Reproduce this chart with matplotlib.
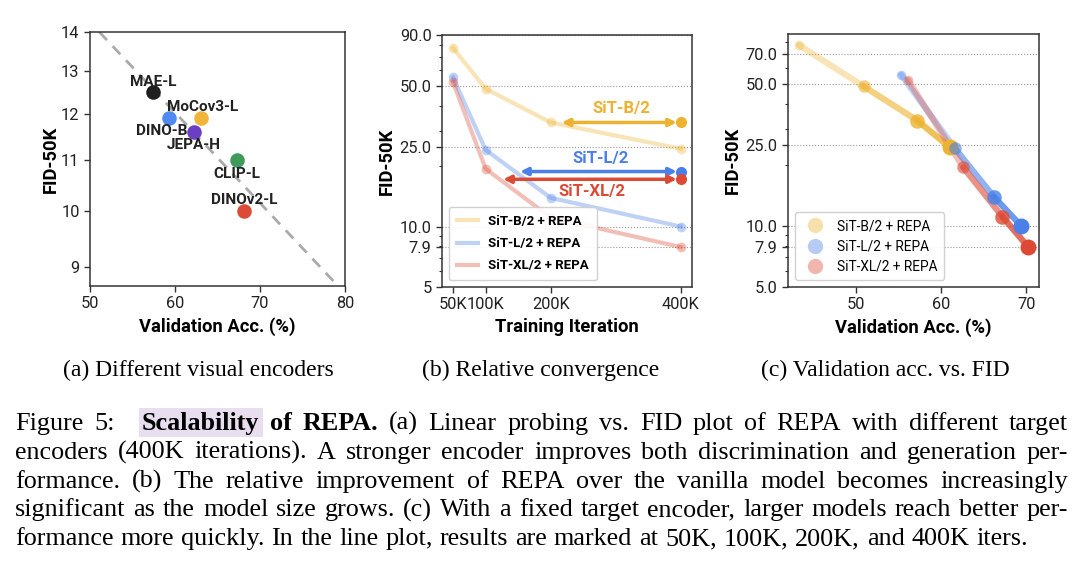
import matplotlib
matplotlib.use('Agg')
import matplotlib.pyplot as plt
from matplotlib.lines import Line2D
from matplotlib.patches import Rectangle
from matplotlib.ticker import FixedLocator, NullLocator, NullFormatter

# (a) different target encoders at 400K iters
enc_names = ['MAE-L', 'DINO-B', 'MoCov3-L', 'JEPA-H', 'CLIP-L', 'DINOv2-L']
enc_acc = [57.4, 59.3, 63.1, 62.2, 67.3, 68.1]
enc_fid = [12.5, 11.9, 11.9, 11.6, 11.0, 10.0]
trend_acc = [51.1, 80.0]
trend_fid = [14.0, 8.56]

# (b) FID vs training iteration (K) for SiT + REPA
iters = [50, 100, 200, 400]
fid_b2 = [77.5, 48.6, 33.0, 24.4]
fid_l2 = [55.4, 24.1, 13.9, 10.0]
fid_xl2 = [52.3, 19.4, 11.1, 7.9]
models = ['SiT-B/2', 'SiT-L/2', 'SiT-XL/2']
vanilla_fid_400k = [33.0, 18.8, 17.2]
match_iter = [217, 153, 127]

# (c) validation acc vs FID
acc_b2 = [43.3, 50.9, 57.2, 61.0]
acc_l2 = [55.3, 61.6, 66.2, 69.4]
acc_xl2 = [56.1, 62.6, 67.2, 70.2]

# caption text
subcaps = ['(a) Different visual encoders', '(b) Relative convergence', '(c) Validation acc. vs. FID']
cap_lines = [
    'Figure 5:| **Scalability **of **REPA.** (a) Linear probing vs. FID plot of REPA with different target',
    'encoders (400K iterations). A stronger encoder improves both discrimination and generation per-',
    'formance. (b) The relative improvement of REPA over the vanilla model becomes increasingly',
    'significant as the model size grows. (c) With a fixed target encoder, larger models reach better per-',
    'formance more quickly. In the line plot, results are marked at 50K, 100K, 200K, and 400K iters.',
]

enc_colors = ['#1f1f1f', '#4e8af0', '#f2b53a', '#6b3fc4', '#3e9b5b', '#dc4b38']
enc_offsets = [(0, 7), (-5, -9), (1, 8), (0, -9.5), (0, -10), (0, 8)]
gold, blue, red = '#edb22f', '#4a80e8', '#dc4a35'
cols = [gold, blue, red]
spine_c = '#333333'
lab_fs = 13.2

plt.rcParams['font.family'] = ['Roboto', 'DejaVu Sans']
W, H = 1080, 563
fig = plt.figure(figsize=(W / 100, H / 100), dpi=100)


def px_axes(l, t, r, b):
    return fig.add_axes([l / W, 1 - b / H, (r - l) / W, (b - t) / H])


def style(ax):
    for s in ax.spines.values():
        s.set_color(spine_c)
        s.set_linewidth(1.1)
    ax.tick_params(labelsize=11.8, length=4, width=1, color=spine_c, labelcolor='#222222')
    ax.tick_params(which='minor', length=2.5, width=0.8, color=spine_c)


# ---------------- (a)
ax1 = px_axes(90, 32, 345, 286)
ax1.plot(trend_acc, trend_fid, ls='--', color='#aaaaaa', lw=2, dashes=(4, 3), zorder=1)
for i in range(len(enc_names)):
    ax1.scatter(enc_acc[i], enc_fid[i], s=110, color=enc_colors[i], zorder=3, linewidths=0)
    ax1.annotate(enc_names[i], (enc_acc[i], enc_fid[i]), xytext=enc_offsets[i],
                 textcoords='offset points', ha='center', va='center',
                 fontsize=11, fontweight='bold', color='#222222', zorder=4)
ax1.set_yscale('log')
ax1.set_xlim(50, 80)
ax1.set_ylim(8.68, 14)
ax1.yaxis.set_major_locator(FixedLocator([9, 10, 11, 12, 13, 14]))
ax1.yaxis.set_minor_locator(NullLocator())
ax1.yaxis.set_minor_formatter(NullFormatter())
ax1.set_yticklabels(['9', '10', '11', '12', '13', '14'])
ax1.set_xticks([50, 60, 70, 80])
ax1.set_xlabel('Validation Acc. (%)', fontsize=lab_fs, fontweight='bold', labelpad=4)
ax1.set_ylabel('FID-50K', fontsize=lab_fs, fontweight='bold', labelpad=1)
style(ax1)

# ---------------- (b)
ax2 = px_axes(442, 35, 692, 287)
series = [fid_b2, fid_l2, fid_xl2]
for k in range(3):
    ax2.plot(iters, series[k], color=cols[k], alpha=0.35, lw=3, marker='o', ms=7,
             mec='none', label=models[k] + ' + REPA', zorder=2)
for k in range(3):
    ax2.annotate('', xy=(match_iter[k], vanilla_fid_400k[k]), xytext=(iters[-1], vanilla_fid_400k[k]),
                 arrowprops=dict(arrowstyle='<|-|>', color=cols[k], lw=2.5, mutation_scale=11,
                                 shrinkA=3, shrinkB=0), zorder=3)
    ax2.plot(iters[-1], vanilla_fid_400k[k], 'o', color=cols[k], ms=8, mec='none', zorder=4)
lab_dy = [10, 9.5, -9]
for k in range(3):
    ax2.annotate(models[k], ((match_iter[k] + iters[-1]) / 2, vanilla_fid_400k[k]),
                 xytext=(0, lab_dy[k]), textcoords='offset points', ha='center', va='center',
                 fontsize=12, fontweight='bold', color=cols[k])
ax2.set_yscale('log')
ax2.set_xlim(33, 417)
ax2.set_ylim(5, 90)
ax2.yaxis.set_major_locator(FixedLocator([5, 7.9, 10, 25, 50, 90]))
ax2.yaxis.set_minor_formatter(NullFormatter())
ax2.set_yticklabels(['5', '7.9', '10.0', '25.0', '50.0', '90.0'])
ax2.set_xticks(iters)
ax2.set_xticklabels(['50K', '100K', '200K', '400K'])
ax2.grid(axis='y', which='major', ls=':', color='#999999', lw=0.8)
ax2.set_xlabel('Training Iteration', fontsize=lab_fs, fontweight='bold', labelpad=4)
ax2.set_ylabel('FID-50K', fontsize=lab_fs, fontweight='bold', labelpad=3)
leg = ax2.legend(loc='lower left', prop={'weight': 'bold', 'size': 9.5}, framealpha=0.9,
                 handlelength=1.6, borderpad=0.6, labelspacing=0.7)
for h in leg.get_lines():
    h.set_marker('')
style(ax2)

# ---------------- (c)
ax3 = px_axes(788, 34, 1039, 287)
accs = [acc_b2, acc_l2, acc_xl2]
seg_alpha = [0.35, 0.6, 0.8]
pt_alpha = [0.35, 0.6, 0.8, 1.0]
pt_size = [7, 9, 10.5, 11.5]
for k in range(3):
    for i in range(3):
        ax3.plot(accs[k][i:i + 2], series[k][i:i + 2], color=cols[k], alpha=seg_alpha[i], lw=4.5,
                 solid_capstyle='round', zorder=2)
    for i in range(4):
        ax3.plot(accs[k][i], series[k][i], 'o', color=cols[k], alpha=pt_alpha[i], ms=pt_size[i],
                 mec='none', zorder=3)
ax3.set_yscale('log')
ax3.set_xlim(42.0, 71.5)
ax3.set_ylim(5, 88)
ax3.yaxis.set_major_locator(FixedLocator([5, 7.9, 10, 25, 50, 70]))
ax3.yaxis.set_minor_formatter(NullFormatter())
ax3.set_yticklabels(['5.0', '7.9', '10.0', '25.0', '50.0', '70.0'])
ax3.set_xticks([50, 60, 70])
ax3.grid(axis='y', which='major', ls=':', color='#999999', lw=0.8)
ax3.set_xlabel('Validation Acc. (%)', fontsize=lab_fs, fontweight='bold', labelpad=4)
ax3.set_ylabel('FID-50K', fontsize=lab_fs, fontweight='bold', labelpad=3)
handles = [Line2D([], [], ls='', marker='o', ms=11, color=c, alpha=0.4, mec='none') for c in cols]
ax3.legend(handles, [m + ' + REPA' for m in models], loc='lower left', prop={'size': 9.8},
           framealpha=0.9, handletextpad=0.6, borderpad=0.5, labelspacing=0.45)
style(ax3)

# ---------------- captions
serif = 'Liberation Serif'
cap_fs = 18.8
sub_x = [198, 541, 885]
for x, s in zip(sub_x, subcaps):
    fig.text(x / W, 1 - 376 / H, s, ha='center', va='baseline', fontsize=17, family=serif)

fig.canvas.draw()
renderer = fig.canvas.get_renderer()
left_px, right_px = 15, 1068
for n, line in enumerate(cap_lines):
    base = 430 + 28.8 * n
    y = 1 - base / H
    tokens = []
    for w in line.replace('|', ' |').split(' '):
        if w == '|':
            tokens[-1][2] = 17
            continue
        bold = w.startswith('**')
        tokens.append([w.strip('*'), bold, 0])
    texts = [fig.text(0, y, t[0], fontsize=cap_fs, family=serif, va='baseline',
                      fontweight='bold' if t[1] else 'normal') for t in tokens]
    widths = [t.get_window_extent(renderer).width for t in texts]
    extra = sum(t[2] for t in tokens)
    last = n == len(cap_lines) - 1
    gap = 7 if last else (right_px - left_px - sum(widths) - extra) / (len(texts) - 1)
    x = left_px
    for t, w, tok in zip(texts, widths, tokens):
        t.set_x(x / W)
        if tok[0] == 'Scalability':
            fig.patches.append(Rectangle(((x - 3) / W, 1 - (base + 7) / H), (w + 6) / W, 29 / H,
                                         transform=fig.transFigure, facecolor='#e9deef',
                                         edgecolor='none', zorder=0))
        x += w + gap + tok[2]

fig.savefig('out.png', dpi=100)
